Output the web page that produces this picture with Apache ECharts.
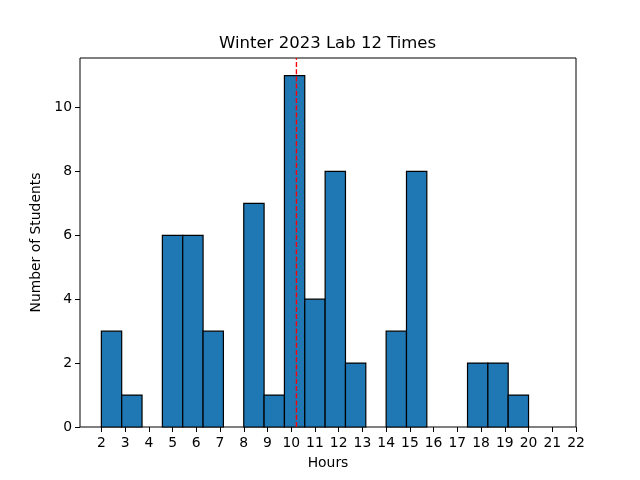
<!DOCTYPE html>
<html>
<head>
<meta charset="utf-8">
<script src="https://cdn.jsdelivr.net/npm/echarts@6/dist/echarts.min.js"></script>
<style>html,body{margin:0;padding:0;background:#fff}#c{width:640px;height:480px}</style>
</head>
<body>
<div id="c"></div>
<script>
// Histogram bin edges (21 bins from 2 to 20 hours)
const binEdges = [2, 2.857, 3.714, 4.571, 5.429, 6.286, 7.143, 8, 8.857, 9.714, 10.571,
                  11.429, 12.286, 13.143, 14, 14.857, 15.714, 16.571, 17.429, 18.286, 19.143, 20];
// Number of students per bin
const counts = [3, 1, 0, 6, 6, 3, 0, 7, 1, 11, 4, 8, 2, 0, 3, 8, 0, 0, 2, 2, 1];
// Mean line position
const meanHours = 10.22;
// Tick labels
const xTicks = [2,3,4,5,6,7,8,9,10,11,12,13,14,15,16,17,18,19,20,21,22];
const yTicks = [0,2,4,6,8,10];

const barData = counts.map((c, i) => [binEdges[i], binEdges[i + 1], c]);
const font = 'DejaVu Sans';

const chart = echarts.init(document.getElementById('c'), null, {renderer: 'canvas'});
chart.setOption({
  animation: false,
  backgroundColor: '#fff',
  title: {
    text: 'Winter 2023 Lab 12 Times',
    left: 214, top: 30,
    textStyle: {fontFamily: font, fontSize: 16.5, fontWeight: 'normal', color: '#000'}
  },
  grid: {left: 80, right: 64, top: 58, bottom: 53, show: true, borderColor: '#000', borderWidth: 1, backgroundColor: 'transparent'},
  xAxis: {
    type: 'value', min: 1.1, max: 22,
    name: 'Hours', nameLocation: 'middle', nameGap: 29,
    nameTextStyle: {fontFamily: font, fontSize: 13.9, color: '#000'},
    axisLine: {show: false},
    axisTick: {show: true, length: 5, lineStyle: {color: '#000'}, customValues: xTicks},
    axisLabel: {fontFamily: font, fontSize: 13.9, color: '#000', margin: 9, customValues: xTicks},
    splitLine: {show: false}
  },
  yAxis: {
    type: 'value', min: 0, max: 11.55,
    name: 'Number of Students', nameLocation: 'middle', nameGap: 32,
    nameTextStyle: {fontFamily: font, fontSize: 13.9, color: '#000'},
    axisLine: {show: false},
    axisTick: {show: true, length: 5, lineStyle: {color: '#000'}, customValues: yTicks},
    axisLabel: {fontFamily: font, fontSize: 13.9, color: '#000', margin: 8, customValues: yTicks},
    splitLine: {show: false}
  },
  series: [
    {
      type: 'custom',
      data: barData,
      encode: {x: [0, 1], y: 2},
      renderItem: function (params, api) {
        if (api.value(2) === 0) return null;
        const p0 = api.coord([api.value(0), 0]);
        const p1 = api.coord([api.value(1), api.value(2)]);
        return {
          type: 'rect',
          shape: {x: p0[0], y: p1[1], width: p1[0] - p0[0], height: p0[1] - p1[1]},
          style: {fill: '#1f77b4', stroke: '#000', lineWidth: 1.2}
        };
      },
      z: 2
    },
    {
      type: 'line',
      data: [[meanHours, 0], [meanHours, 11.55]],
      symbol: 'none',
      lineStyle: {color: '#ff0000', width: 1.4, type: [5, 2.2]},
      z: 5
    }
  ]
});
</script>
</body>
</html>
